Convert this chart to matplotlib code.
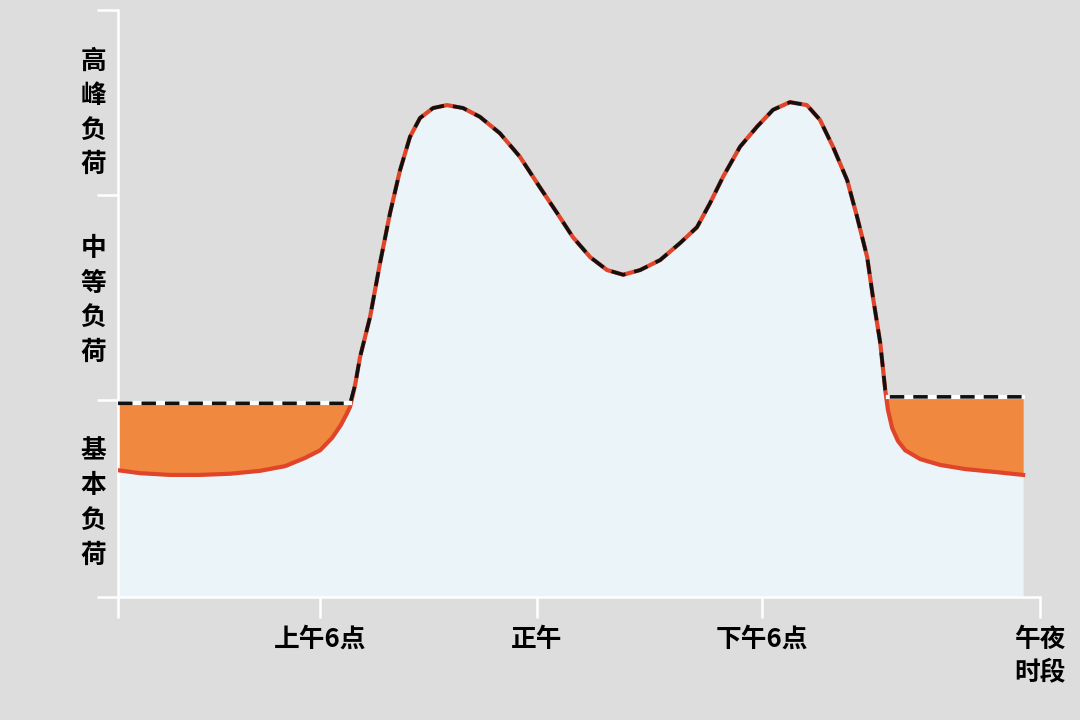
import numpy as np
import matplotlib
matplotlib.use("Agg")
import matplotlib.pyplot as plt

plt.rcParams['font.family'] = ['Noto Sans CJK SC', 'DejaVu Sans']

# time axis (hours) and load (% of axis height)
hours = [0.00, 0.57, 1.35, 2.13, 2.92, 3.70, 4.35, 4.87, 5.26, 5.57, 5.80, 5.96,
         6.04, 6.17, 6.30, 6.56, 6.82, 7.08, 7.34, 7.60, 7.86, 8.20, 8.56, 8.98,
         9.42, 9.94, 10.46, 10.98, 11.43, 11.84, 12.29, 12.73, 13.15, 13.59,
         14.11, 14.63, 15.07, 15.41, 15.75, 16.19, 16.63, 17.05, 17.49, 17.93,
         18.27, 18.61, 18.98, 19.24, 19.50, 19.65, 19.84, 19.97, 20.04, 20.15,
         20.30, 20.49, 20.88, 21.40, 22.05, 22.83, 23.56]
load = [21.6, 21.1, 20.8, 20.8, 21.0, 21.5, 22.3, 23.7, 25.0, 27.1, 29.3, 31.3,
        32.4, 36.1, 40.9, 47.7, 56.9, 65.4, 72.7, 78.4, 81.6, 83.3, 83.8, 83.3,
        81.8, 79.0, 75.0, 69.8, 65.4, 61.3, 57.9, 55.7, 54.9, 55.7,
        57.4, 60.3, 63.0, 67.1, 71.6, 76.7, 80.1, 83.0, 84.3, 83.8,
        81.3, 76.7, 71.0, 64.7, 57.9, 51.1, 43.3, 35.3, 31.9, 28.8,
        26.6, 25.0, 23.5, 22.5, 21.8, 21.3, 20.8]

base_left = 33.0
base_right = 34.1

tick_pos = [0.0, 5.26, 10.9, 16.76, 24.0]
tick_lbl = ['', '上午6点', '正午', '下午6点', '午夜\n时段']
ytick_pos = [0.0, 33.6, 68.5, 100.0]
band_lbl = ['高\n峰\n负\n荷', '中\n等\n负\n荷', '基\n本\n负\n荷']
band_y = [82.5, 50.5, 16.0]

x = np.array(hours)
y = np.array(load)
level = np.where(x < 12, base_left, base_right)
dashed = np.maximum(y, level)
flat = np.where(level >= y, dashed, np.nan)

bg = '#dcdddc'
fig = plt.figure(figsize=(10.8, 7.2), dpi=100, facecolor=bg)
ax = fig.add_axes([0.1093, 0.1708, 0.8537, 0.8153], facecolor=bg)

ax.fill_between(x, 0, y, color='#ebf4f9', lw=0)
ax.fill_between(x, y, dashed, where=(x < 12), interpolate=True, color='#f0883f', lw=0)
ax.fill_between(x, y, dashed, where=(x > 12), interpolate=True, color='#f0883f', lw=0)
ax.plot(x, y, color='#e0452a', lw=3.0, solid_joinstyle='round', zorder=3)
ax.plot(x, flat, color='white', lw=3, zorder=4)
ax.plot(x, dashed, color='#111111', lw=2.6, dashes=(4, 2.5), zorder=5)

ax.set_xlim(0, 24)
ax.set_ylim(0, 100)
for s in ['top', 'right']:
    ax.spines[s].set_visible(False)
for s in ['left', 'bottom']:
    ax.spines[s].set_color('white')
    ax.spines[s].set_linewidth(1.8)

ax.set_xticks(tick_pos)
ax.set_xticklabels(tick_lbl, fontsize=18.5, fontweight='bold', linespacing=1.3)
ax.set_yticks(ytick_pos)
ax.set_yticklabels([])
ax.tick_params(axis='both', colors='white', length=15, width=1.8, pad=6, labelcolor='black')

for lbl, yy in zip(band_lbl, band_y):
    ax.text(-0.027, yy, lbl, transform=ax.get_yaxis_transform(), ha='center', va='center',
            fontsize=18.5, fontweight='bold', linespacing=1.36, color='black')

fig.savefig('out.png', dpi=100, facecolor=bg)
